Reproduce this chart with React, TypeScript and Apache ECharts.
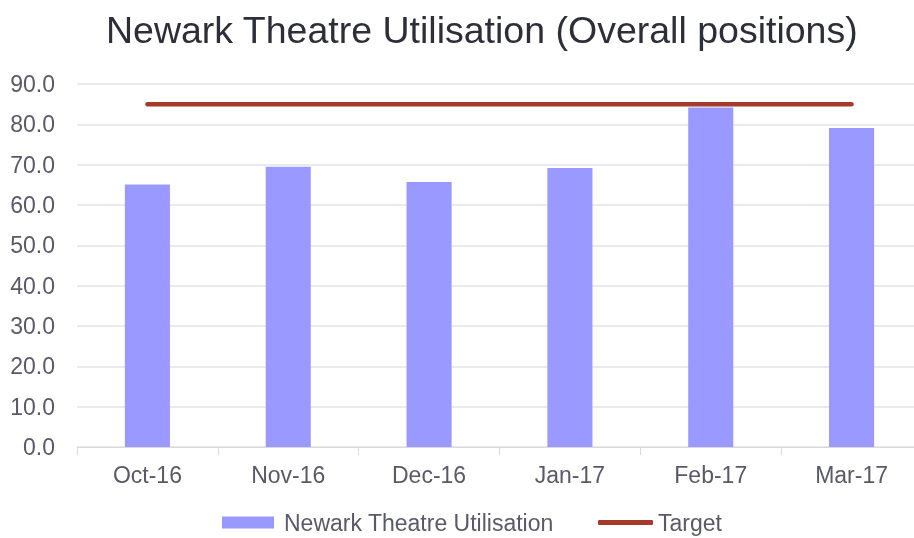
import React, { useEffect, useRef } from "react";
import * as echarts from "echarts";

const categories = ["Oct-16", "Nov-16", "Dec-16", "Jan-17", "Feb-17", "Mar-17"];
const utilisation = [65.1, 69.5, 65.7, 69.2, 84.2, 79.1];
const target = [85, 85, 85, 85, 85, 85];
const yTicks = { min: 0, max: 90, interval: 10 };

export default function App() {
  const ref = useRef<HTMLDivElement>(null);
  useEffect(() => {
    if (!ref.current) return;
    const chart = echarts.init(ref.current, null, { renderer: "svg" });
    const font = "Liberation Sans, Arial, sans-serif";
    const labelColor = "#595968";
    chart.setOption({
      animation: false,
      title: {
        text: "Newark Theatre Utilisation (Overall positions)",
        left: 106,
        top: 11,
        padding: 0,
        textStyle: { fontFamily: font, fontSize: 37.5, fontWeight: "normal", color: "#2e2e38" },
      },
      grid: { left: 77, right: 0, top: 84, bottom: 113, containLabel: false },
      legend: [
        {
          left: 222,
          top: 511,
          padding: 0,
          itemWidth: 52,
          itemHeight: 12,
          textStyle: { fontFamily: font, fontSize: 23, color: labelColor, padding: [0, 0, 0, 5] },
          data: [{ name: "Newark Theatre Utilisation", icon: "rect" }],
        },
        {
          left: 598,
          top: 511,
          padding: 0,
          itemWidth: 55,
          itemHeight: 5,
          textStyle: { fontFamily: font, fontSize: 23, color: labelColor },
          data: [{ name: "Target", icon: "roundRect", itemStyle: { color: "#a5392a" } }],
        },
      ],
      xAxis: {
        type: "category",
        data: categories,
        axisLine: { show: true, lineStyle: { color: "#d9d9d9", width: 1 } },
        axisTick: { show: true, length: 8, lineStyle: { color: "#d9d9d9" } },
        axisLabel: { fontFamily: font, fontSize: 23, color: labelColor, margin: 16 },
      },
      yAxis: {
        type: "value",
        min: yTicks.min,
        max: yTicks.max,
        interval: yTicks.interval,
        axisLine: { show: false },
        axisTick: { show: false },
        splitLine: { lineStyle: { color: "#e2e2e8", width: 1.5 } },
        axisLabel: {
          fontFamily: font,
          fontSize: 23,
          color: labelColor,
          margin: 22,
          formatter: (v: number) => v.toFixed(1),
        },
      },
      series: [
        {
          name: "Newark Theatre Utilisation",
          type: "bar",
          data: utilisation,
          barWidth: "32%",
          itemStyle: { color: "#9999ff" },
        },
        {
          name: "Target",
          type: "line",
          data: target,
          symbol: "none",
          lineStyle: { color: "#a5392a", width: 4.5, cap: "round" },
          itemStyle: { color: "#a5392a" },
        },
      ],
    });
    return () => chart.dispose();
  }, []);
  return (
    <div style={{ position: "fixed", left: 0, top: 0, width: 914, height: 538, overflow: "hidden" }}>
      <div ref={ref} style={{ width: 922, height: 560 }} />
    </div>
  );
}
